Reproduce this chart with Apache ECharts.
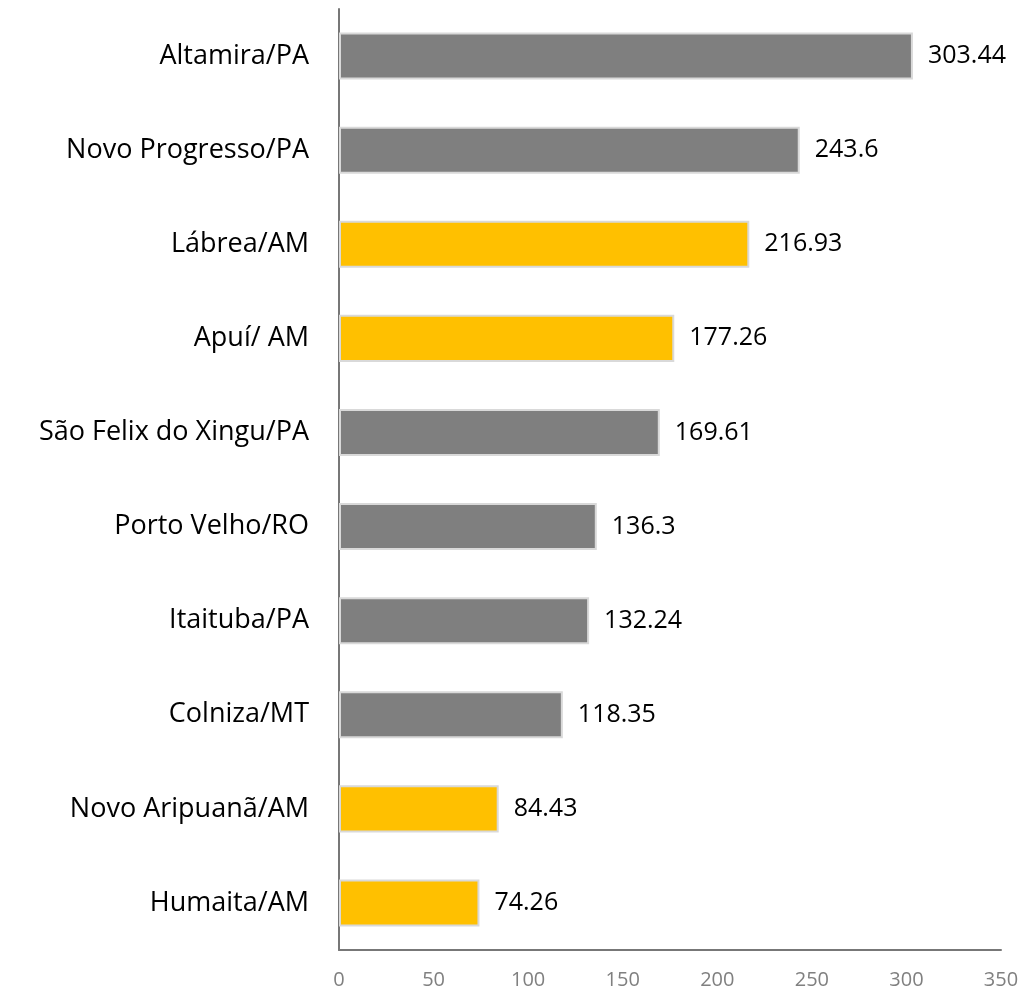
<!DOCTYPE html>
<html><head><meta charset="utf-8">
<script src="https://cdn.jsdelivr.net/npm/echarts@6/dist/echarts.min.js"></script>
<style>html,body{margin:0;padding:0;background:#fff}#c{width:1023px;height:993px}</style>
</head><body><div id="c"></div>
<script>
const categories = ["Altamira/PA","Novo Progresso/PA","Lábrea/AM","Apuí/ AM","São Felix do Xingu/PA","Porto Velho/RO","Itaituba/PA","Colniza/MT","Novo Aripuanã/AM","Humaita/AM"];
const values = [303.44,243.6,216.93,177.26,169.61,136.3,132.24,118.35,84.43,74.26];
const highlighted = [false,false,true,true,false,false,false,false,true,true];

const chart = echarts.init(document.getElementById('c'));
chart.setOption({
  animation:false,
  grid:{left:339,right:22,top:9,bottom:43,containLabel:false},
  xAxis:{type:'value',min:0,max:350,interval:50,
    axisLine:{show:true,lineStyle:{color:'#777777',width:2}},axisTick:{show:false},splitLine:{show:false},
    axisLabel:{color:'#808080',fontSize:20,fontFamily:'Open Sans',margin:20}},
  yAxis:{type:'category',inverse:true,data:categories,
    axisLine:{show:true,lineStyle:{color:'#777777',width:2}},axisTick:{show:false},
    axisLabel:{color:'#000',fontSize:27,fontFamily:'Open Sans',margin:30}},
  series:[{type:'bar',barWidth:'50%',
    data:values.map((v,i)=>({value:v,itemStyle:{color:highlighted[i]?'#FFC000':'#7F7F7F'}})),
    itemStyle:{borderColor:'#D9D9D9',borderWidth:2},
    label:{show:true,position:'right',distance:15,color:'#000',fontSize:25,fontFamily:'Open Sans'}}
  ]
});
</script></body></html>
